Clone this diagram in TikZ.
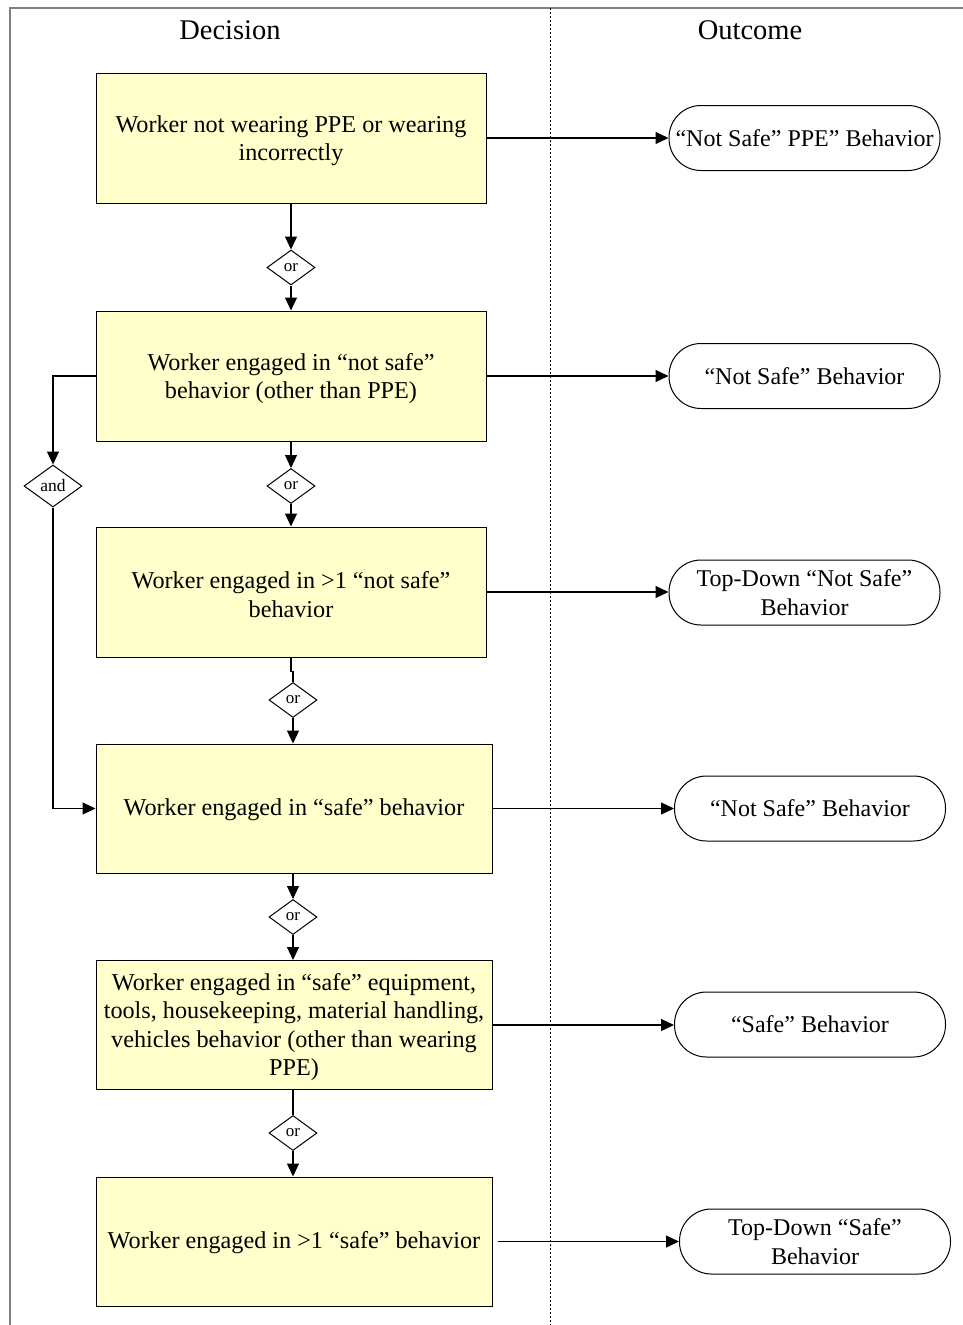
\documentclass[tikz,border=0pt]{standalone}
\usepackage{fontspec}
\setmainfont{Liberation Serif}
\usetikzlibrary{arrows.meta,shapes.geometric}
\definecolor{boxfill}{HTML}{FFFFCC}
\definecolor{framegray}{HTML}{808080}
\begin{document}
\begin{tikzpicture}[x=1pt,y=-1pt,
  box/.style={draw=black, line width=1pt, fill=boxfill, minimum width=390pt, minimum height=130pt, align=center, inner sep=0pt, font=\fontsize{24.2}{28.5}\selectfont},
  widebox/.style={box, minimum width=396pt, minimum height=129pt},
  boxtext/.style={draw=none, fill=none, align=center, inner sep=0pt, font=\fontsize{24.2}{28.5}\selectfont},
  pill/.style={draw=black, line width=1pt, rounded corners=32pt, minimum width=271pt, minimum height=65pt, align=center, inner sep=0pt, font=\fontsize{24}{28.5}\selectfont},
  gate/.style={diamond, draw=black, line width=1pt, fill=white, inner sep=0pt, minimum width=48pt, minimum height=35pt, font=\fontsize{17}{19}\selectfont},
  conn/.style={line width=1.2pt, -{Triangle[length=13pt,width=12pt]}},
  plainline/.style={line width=1.2pt},
  header/.style={font=\fontsize{28.5}{32}\selectfont}
]
\useasboundingbox (0,0) rectangle (963,1325);
% frame
\draw[framegray, line width=1.5pt] (10,1325) -- (10,8) -- (963,8);
\draw[black, line width=0.7pt, dash pattern=on 2pt off 2pt] (550,8) -- (550,1325);
\node[header] (hdec) at (230,30) {Decision};
\node[header] (hout) at (750,30) {Outcome};

% boxes
\node[box] (b1) at (291,138) {};
\node[boxtext] (b1t) at (291,140.5) {Worker not wearing PPE or wearing\\incorrectly};
\node[box] (b2) at (291,376) {};
\node[boxtext] (b2t) at (291,378.5) {Worker engaged in “not safe”\\behavior (other than PPE)};
\node[box] (b3) at (291,592) {};
\node[boxtext] (b3t) at (291,594.5) {Worker engaged in >1 “not safe”\\behavior};
\node[widebox] (b4) at (294,808.5) {};
\node[boxtext] (b4t) at (294,810) {Worker engaged in “safe” behavior};
\node[widebox] (b5) at (294,1025) {};
\node[boxtext] (b5t) at (294,1027) {Worker engaged in “safe” equipment,\\tools, housekeeping, material handling,\\vehicles behavior (other than wearing\\PPE)};
\node[widebox] (b6) at (294,1241.5) {};
\node[boxtext] (b6t) at (294,1243) {Worker engaged in >1 “safe” behavior};

% gates
\node[gate] (d1) at (291,267.5) {or};
\node[gate] (d2) at (291,486) {or};
\node[gate] (d3) at (293,700) {or};
\node[gate] (d4) at (293,917) {or};
\node[gate] (d5) at (293,1133) {or};
\node[gate, minimum width=58pt, minimum height=42pt, font=\fontsize{17.5}{19}\selectfont] (dand) at (53,486) {and};

% outcomes
\node[pill] (p1) at (804.5,138) {“Not Safe” PPE” Behavior};
\node[pill] (p2) at (804.5,376) {“Not Safe” Behavior};
\node[pill] (p3) at (804.5,592.5) {Top-Down “Not Safe”\\Behavior};
\node[pill] (p4) at (810,808.5) {“Not Safe” Behavior};
\node[pill] (p5) at (810,1024.5) {“Safe” Behavior};
\node[pill] (p6) at (815,1241.5) {Top-Down “Safe”\\Behavior};

% vertical flow
\draw[conn] (b1.south) -- (d1.north);
\draw[conn] (d1.south) -- (b2.north);
\draw[conn] (b2.south) -- (d2.north);
\draw[conn] (d2.south) -- (b3.north);
\draw[plainline] (b3.south) -- ++(0,14) -| (d3.north);
\draw[conn] (d3.south) -- (d3.south |- b4.north);
\draw[conn] (d4.north |- b4.south) -- (d4.north);
\draw[conn] (d4.south) -- (d4.south |- b5.north);
\draw[plainline] (d5.north |- b5.south) -- (d5.north);
\draw[conn] (d5.south) -- (d5.south |- b6.north);

% and branch
\draw[conn] (b2.west) -| (dand.north);
\draw[conn] (dand.south) |- (b4.west);

% outcome arrows
\draw[conn] (b1.east) -- (p1.west);
\draw[conn] (b2.east) -- (p2.west);
\draw[conn] (b3.east) -- (b3.east -| p3.west);
\draw[conn] (b4.east) -- (p4.west);
\draw[conn] (b5.east) -- (b5.east -| p5.west);
\draw[conn, shorten <=5pt] (b6.east) -- (p6.west);
\end{tikzpicture}
\end{document}
